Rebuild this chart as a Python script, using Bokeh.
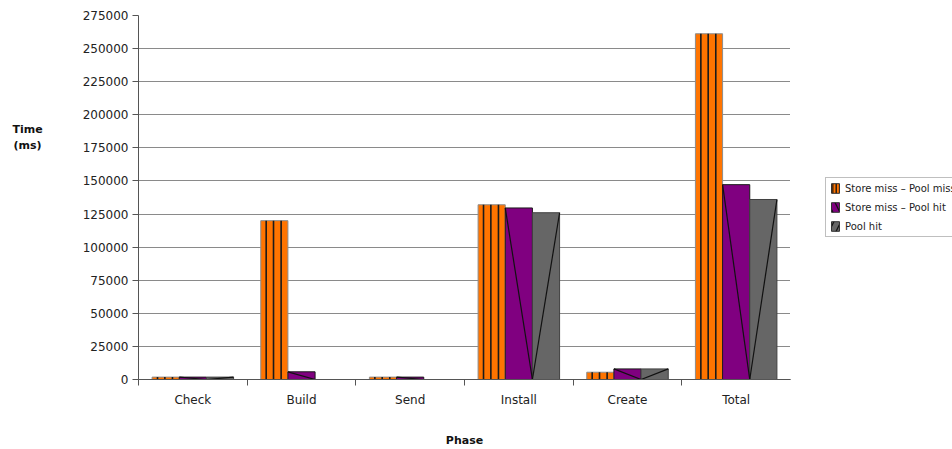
import numpy as np
from bokeh.plotting import figure
from bokeh.layouts import row
from bokeh.models import (Range1d, LinearAxis, FixedTicker, Grid, Legend, LegendItem,
                          Label, ColumnDataSource, NumeralTickFormatter)
from bokeh.embed import file_html
from bokeh.resources import INLINE

# Build/deploy phase timings in milliseconds
phases = ["Check", "Build", "Send", "Install", "Create", "Total"]
series_names = ["Store miss \u2013 Pool miss", "Store miss \u2013 Pool hit", "Pool hit"]
store_miss_pool_miss = [1800, 120000, 1800, 132000, 5500, 261200]
store_miss_pool_hit = [1800, 5800, 1800, 129600, 8000, 147200]
pool_hit = [1800, 0, 0, 126000, 8000, 136000]
y_ticks = [0, 25000, 50000, 75000, 100000, 125000, 150000, 175000, 200000, 225000, 250000, 275000]

series_values = [store_miss_pool_miss, store_miss_pool_hit, pool_hit]
fill_colors = ["#ff7400", "#800080", "#666666"]
edge_colors = ["#8c8c8c", "#1a1a1a", "#404040"]
bar_width = 0.25
offsets = [-0.25, 0.0, 0.25]

FONT = "DejaVu Sans"
H = 449
TOP, BOTTOM = 15, 70          # borders shared by all three panels
FRAME_BOTTOM = H - BOTTOM     # pixel row of the x axis


def bare_figure(width):
    f = figure(width=width, height=H, output_backend="svg", toolbar_location=None,
               x_range=Range1d(0, 1), y_range=Range1d(0, 1),
               x_axis_type=None, y_axis_type=None,
               min_border_left=0, min_border_right=0,
               min_border_top=TOP, min_border_bottom=BOTTOM)
    f.outline_line_color = None
    f.grid.visible = False
    return f


# ---- left strip: y axis title ----
title_fig = bare_figure(60)
title_fig.add_layout(Label(x=27, y=FRAME_BOTTOM - 137, x_units="screen", y_units="screen",
                           text="Time\n(ms)", text_align="center", text_baseline="middle",
                           text_font=FONT, text_font_size="11px",
                           text_font_style="bold", text_color="#111111"))

# ---- main chart ----
p = figure(width=730, height=H, output_backend="svg", toolbar_location=None,
           x_range=Range1d(0, len(phases)), y_range=Range1d(0, y_ticks[-1]),
           x_axis_type=None, y_axis_type=None,
           min_border_left=78, min_border_right=0, min_border_top=TOP, min_border_bottom=BOTTOM)
p.outline_line_color = None

p.add_layout(Grid(dimension=1, ticker=FixedTicker(ticks=y_ticks),
                  grid_line_color="#8a8a8a", grid_line_width=1))

yaxis = LinearAxis(ticker=FixedTicker(ticks=y_ticks, minor_ticks=[]),
                   formatter=NumeralTickFormatter(format="0"),
                   major_tick_out=6, major_tick_in=0,
                   major_label_standoff=4,
                   major_label_text_font=FONT, major_label_text_font_size="12px",
                   major_label_text_color="#222222",
                   axis_line_color="#555555", major_tick_line_color="#555555")
p.add_layout(yaxis, "left")

# labels at category centres, tick marks at category boundaries
centers = [i + 0.5 for i in range(len(phases))]
xaxis = LinearAxis(ticker=FixedTicker(ticks=centers, minor_ticks=list(range(len(phases)))),
                   major_label_overrides={c: name for c, name in zip(centers, phases)},
                   major_tick_out=0, major_tick_in=0,
                   minor_tick_out=6, minor_tick_in=0,
                   major_label_standoff=7,
                   major_label_text_font=FONT, major_label_text_font_size="12px",
                   major_label_text_color="#222222",
                   axis_line_color="#555555", minor_tick_line_color="#555555",
                   axis_label="Phase", axis_label_standoff=24,
                   axis_label_text_font=FONT, axis_label_text_font_size="11px",
                   axis_label_text_font_style="bold", axis_label_text_color="#111111")
p.add_layout(xaxis, "below")

idx = np.arange(len(phases))
bar_sources = []
for vals, off, fc, ec in zip(series_values, offsets, fill_colors, edge_colors):
    x = idx + 0.5 + off
    src = ColumnDataSource(dict(x=x, top=vals,
                                left=x - bar_width / 2, right=x + bar_width / 2,
                                zero=[0] * len(vals)))
    p.vbar(x="x", top="top", width=bar_width, source=src,
           fill_color=fc, line_color=ec, line_width=1)
    bar_sources.append(src)

# vertical stripes on the first series
stripe_fracs = [0.2, 0.47, 0.75]
sx, sy0, sy1 = [], [], []
for left, top in zip(bar_sources[0].data["left"], store_miss_pool_miss):
    for f in stripe_fracs:
        sx.append(left + f * bar_width)
        sy0.append(0)
        sy1.append(top)
p.segment(x0=sx, y0=sy0, x1=sx, y1=sy1, line_color="#1a1a1a", line_width=1.6)

# diagonal strokes: top-left to bottom-right on the second series
p.segment(x0="left", y0="top", x1="right", y1="zero", source=bar_sources[1],
          line_color="#111111", line_width=1.2)
# bottom-left to top-right on the third series
p.segment(x0="left", y0="zero", x1="right", y1="top", source=bar_sources[2],
          line_color="#111111", line_width=1.2)

# ---- right strip: legend ----
legend_fig = bare_figure(162)
legend_patterns = ["|", "\\", "/"]
legend_scales = [3.5, 14, 14]
items = []
for name, fc, hp, hs in zip(series_names, fill_colors, legend_patterns, legend_scales):
    # swatch glyph kept outside the visible range; only its legend entry shows
    r = legend_fig.vbar(x=[-1], top=[0], width=0.1,
                        fill_color=fc, line_color="#333333",
                        hatch_pattern=hp, hatch_scale=hs, hatch_color="#111111", hatch_weight=1.3)
    items.append(LegendItem(label=name, renderers=[r]))

legend = Legend(items=items, location=(35, FRAME_BOTTOM - 237),
                glyph_width=10, glyph_height=12, label_height=12,
                label_text_font=FONT, label_text_font_size="10px",
                label_text_color="#222222", label_standoff=5,
                spacing=7, padding=4, margin=0,
                border_line_color="#808080", border_line_width=1,
                background_fill_color="white", background_fill_alpha=1)
legend_fig.add_layout(legend, "center")

layout = row(title_fig, p, legend_fig, spacing=0)
open("out.html", "w").write(file_html(layout, INLINE))
